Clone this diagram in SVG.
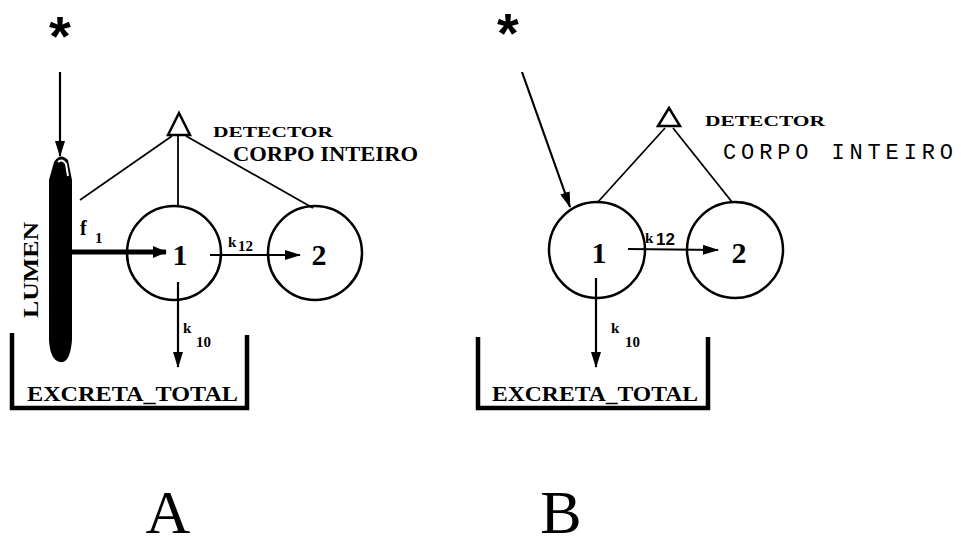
<svg xmlns="http://www.w3.org/2000/svg" width="961" height="547" viewBox="0 0 961 547">
<style>
.c{fill:none;stroke:#000;stroke-width:2.5}
.ln{stroke:#000;stroke-width:1.8;fill:none}
.ar{stroke:#000;stroke-width:2.2;fill:none}
.bx{stroke:#000;stroke-width:4.5;fill:none}
.t{font-family:"Liberation Serif",serif;font-weight:bold;fill:#000}
.num{font-family:"Liberation Serif",serif;font-weight:bold;font-size:30px;fill:#000}
.sm{font-family:"Liberation Serif",serif;font-weight:bold;font-size:15px;fill:#000}
.big{font-family:"Liberation Serif",serif;font-size:62px;fill:#000}
.ast{font-family:"Liberation Sans",sans-serif;font-weight:bold;font-size:56px;fill:#000}
</style>
<defs>
<marker id="ahl" markerWidth="16" markerHeight="10" refX="15" refY="5" orient="auto" markerUnits="userSpaceOnUse"><path d="M0,0 L16,5 L0,10 Z" fill="#000"/></marker>
<marker id="ahb" markerWidth="14" markerHeight="12" refX="13" refY="6" orient="auto" markerUnits="userSpaceOnUse"><path d="M0,0 L14,6 L0,12 Z" fill="#000"/></marker>
</defs>

<!-- Panel A -->
<g id="a-star"><text class="ast" x="60" y="55" text-anchor="middle">*</text></g>
<g id="a-lumen">
  <path d="M54,162 Q60,152 68,160 L72,180 L72,340 Q70,364 60,362 Q50,360 49,340 L49,180 Z" fill="#000"/>
  <path d="M58,162 Q62,158 66,164 L68,176" stroke="#fff" stroke-width="2" fill="none"/>
  <text class="t" font-size="21" transform="translate(38,270) rotate(-90)" text-anchor="middle" textLength="96" lengthAdjust="spacingAndGlyphs">LUMEN</text>
</g>
<g id="a-detector">
  <path d="M179,113 L190,135 L168,135 Z" fill="#fff" stroke="#000" stroke-width="2.5"/>
  <text class="t" font-size="15" x="213" y="137" textLength="120" lengthAdjust="spacingAndGlyphs">DETECTOR</text>
  <text class="t" font-size="20" x="233" y="161" textLength="185" lengthAdjust="spacingAndGlyphs">CORPO INTEIRO</text>
</g>
<g id="a-c1">
  <circle class="c" cx="174" cy="253" r="47"/>
  <text class="num" x="180" y="265" text-anchor="middle">1</text>
</g>
<g id="a-c2">
  <circle class="c" cx="315" cy="253" r="47"/>
  <text class="num" x="319" y="265" text-anchor="middle">2</text>
</g>
<g id="a-labels">
  <text class="t" font-size="20" x="80" y="235">f</text>
  <text class="sm" x="95" y="243">1</text>
  <text class="sm" x="228" y="247">k</text>
  <text class="sm" x="238" y="251">12</text>
  <text class="sm" x="183" y="333">k</text>
  <text class="sm" x="196" y="347">10</text>
</g>
<g id="a-excreta">
  <path class="bx" d="M12,333 L12,408 L247,408 L247,335"/>
  <text class="t" font-size="22" x="27" y="401" textLength="211" lengthAdjust="spacingAndGlyphs">EXCRETA_TOTAL</text>
</g>
<g id="label-a"><text class="big" x="168" y="533" text-anchor="middle">A</text></g>
<g id="a-connectors">
  <line class="ar" x1="60" y1="72" x2="60" y2="156" marker-end="url(#ahl)"/>
  <line class="ln" x1="172" y1="136" x2="80" y2="200"/>
  <line class="ln" x1="178" y1="136" x2="178" y2="206"/>
  <line class="ln" x1="186" y1="136" x2="313" y2="208"/>
  <line stroke="#000" stroke-width="5" x1="72" y1="252" x2="166" y2="252" marker-end="url(#ahb)"/>
  <line class="ln" x1="210" y1="255" x2="300" y2="255" marker-end="url(#ahl)"/>
  <line class="ar" x1="178" y1="282" x2="178" y2="367" marker-end="url(#ahl)"/>
</g>

<!-- Panel B -->
<g id="b-star"><text class="ast" x="508" y="52" text-anchor="middle">*</text></g>
<g id="b-detector">
  <path d="M669,108 L680,126 L658,126 Z" fill="#fff" stroke="#000" stroke-width="2.5"/>
  <text class="t" font-size="15" x="705" y="126" textLength="120" lengthAdjust="spacingAndGlyphs">DETECTOR</text>
  <text font-family="Liberation Mono,monospace" font-size="22" x="723" y="159" textLength="230" lengthAdjust="spacing" fill="#000">CORPO INTEIRO</text>
</g>
<g id="b-c1">
  <circle class="c" cx="597" cy="250" r="48"/>
  <text class="num" x="599" y="263" text-anchor="middle">1</text>
</g>
<g id="b-c2">
  <circle class="c" cx="735" cy="250" r="48"/>
  <text class="num" x="739" y="263" text-anchor="middle">2</text>
</g>
<g id="b-labels">
  <text class="sm" x="645" y="243">k</text>
  <text font-family="Liberation Sans,sans-serif" font-weight="bold" font-size="17" x="656" y="245" fill="#000">12</text>
  <text class="sm" x="611" y="333">k</text>
  <text class="sm" x="625" y="347">10</text>
</g>
<g id="b-excreta">
  <path class="bx" d="M478,337 L478,408 L708,408 L708,337"/>
  <text class="t" font-size="22" x="492" y="401" textLength="206" lengthAdjust="spacingAndGlyphs">EXCRETA_TOTAL</text>
</g>
<g id="label-b"><text class="big" x="561" y="533" text-anchor="middle">B</text></g>
<g id="b-connectors">
  <line class="ar" x1="522" y1="72" x2="570" y2="207" marker-end="url(#ahl)"/>
  <line class="ln" x1="665" y1="128" x2="597" y2="203"/>
  <line class="ln" x1="673" y1="128" x2="732" y2="202"/>
  <line class="ln" x1="628" y1="249" x2="718" y2="250" marker-end="url(#ahl)"/>
  <line class="ar" x1="596" y1="278" x2="596" y2="367" marker-end="url(#ahl)"/>
</g>
</svg>
